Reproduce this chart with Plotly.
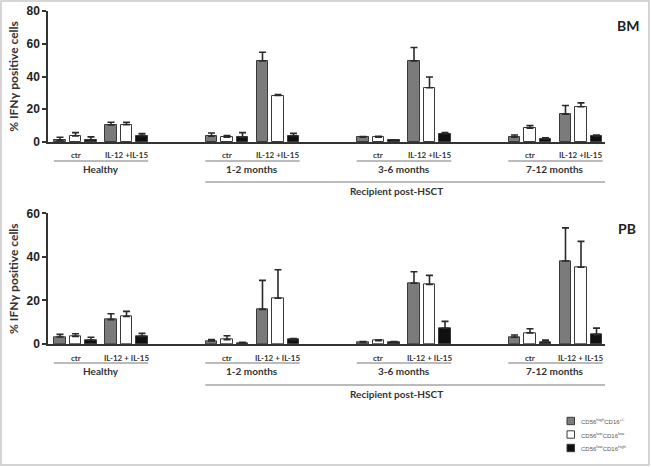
import plotly.graph_objects as go

# ---------------- data ----------------
groups = ["Healthy", "1-2 months", "3-6 months", "7-12 months"]
conditions_bm = ["ctr", "IL-12 +IL-15"]
conditions_pb = ["ctr", "IL-12 + IL-15"]
series_names = ["CD56<sup>high</sup>CD16<sup>+/-</sup>",
                "CD56<sup>low</sup>CD16<sup>low</sup>",
                "CD56<sup>low</sup>CD16<sup>high</sup>"]
recipient_label = "Recipient post-HSCT"
y_title = "% IFN\u03b3 positive cells"

# order: Healthy ctr, Healthy IL, 1-2 ctr, 1-2 IL, 3-6 ctr, 3-6 IL, 7-12 ctr, 7-12 IL
bm_bright = [1.0, 10.4, 3.5, 49.5, 2.9, 49.5, 2.9, 17.0]
bm_bright_err = [1.9, 1.7, 2.0, 5.3, 0.4, 8.2, 1.4, 5.3]
bm_lowlow = [3.7, 10.6, 2.9, 28.4, 2.9, 33.1, 8.4, 21.5]
bm_lowlow_err = [2.0, 1.5, 1.0, 0.6, 0.6, 6.6, 1.6, 2.4]
bm_lowhigh = [1.2, 3.9, 2.9, 3.9, 1.0, 5.1, 1.8, 3.7]
bm_lowhigh_err = [1.9, 1.2, 2.8, 1.4, 0.4, 0.6, 0.7, 0.6]

pb_bright = [3.2, 11.2, 1.4, 15.9, 0.8, 27.9, 3.1, 38.1]
pb_bright_err = [1.2, 2.7, 0.7, 13.3, 0.3, 5.3, 1.0, 15.2]
pb_lowlow = [3.5, 12.6, 2.0, 21.0, 1.5, 27.3, 5.1, 35.2]
pb_lowlow_err = [1.2, 2.4, 1.8, 13.1, 0.3, 4.2, 1.9, 11.9]
pb_lowhigh = [1.8, 3.5, 0.5, 2.0, 0.8, 7.2, 0.9, 4.3]
pb_lowhigh_err = [1.3, 1.4, 0.3, 0.5, 0.3, 3.2, 0.9, 3.0]

# ---------------- layout constants ----------------
G = 9.774   # group spacing (bar slots)
C = 3.29    # condition spacing
BW = 0.77   # bar width
fills = ["#7b7b7b", "#ffffff", "#101010"]
outline = "#3a3a3a"

W, H = 651, 467
ML, MR, MT, MB = 48, 46, 11, 123
PW = W - ML - MR
PH = H - MT - MB
top_dom = [(344 - 142) / PH, 1.0]
bot_dom = [0.0, (344 - 213.3) / PH]

fig = go.Figure()

def xpos(k, s):
    g, c = divmod(k, 2)
    return g * G + c * C + s

panels = [
    ("x", "y", [bm_bright, bm_lowlow, bm_lowhigh], [bm_bright_err, bm_lowlow_err, bm_lowhigh_err]),
    ("x2", "y2", [pb_bright, pb_lowlow, pb_lowhigh], [pb_bright_err, pb_lowlow_err, pb_lowhigh_err]),
]
for xa, ya, vals, errs in panels:
    for s in range(3):
        fig.add_trace(go.Bar(
            x=[xpos(k, s) for k in range(len(vals[s]))],
            y=vals[s],
            width=BW,
            name=series_names[s],
            showlegend=False,
            marker=dict(color=fills[s], line=dict(color=outline, width=1)),
            error_y=dict(type="data", array=errs[s], arrayminus=[0] * len(errs[s]),
                         symmetric=False, color="#2a2a2a", thickness=1.6, width=3.5),
            xaxis=xa, yaxis=ya,
        ))

x_range = [-12 / 15.5, -12 / 15.5 + PW / 15.5]
tickfont = dict(family="Liberation Sans, Arial", size=12, color="#222", weight="bold")
ax_common = dict(showline=True, linecolor="#333", linewidth=1.5, showgrid=False, zeroline=False,
                 automargin=False)
title_font = dict(family="Lato, Liberation Sans", size=12, color="#333", weight="bold")

fig.update_layout(
    width=W, height=H,
    margin=dict(l=ML, r=MR, t=MT, b=MB, autoexpand=False),
    plot_bgcolor="white", paper_bgcolor="white",
    bargap=0, showlegend=False,
    xaxis=dict(domain=[0, 1], range=x_range, anchor="y", showticklabels=False, ticks="", **ax_common),
    xaxis2=dict(domain=[0, 1], range=x_range, anchor="y2", showticklabels=False, ticks="", **ax_common),
    yaxis=dict(domain=top_dom, range=[0, 80], anchor="x", dtick=20, ticks="outside", ticklen=4,
               tickwidth=1.5, tickcolor="#333", tickfont=tickfont,
               title=dict(text=y_title, standoff=5, font=title_font),
               **ax_common),
    yaxis2=dict(domain=bot_dom, range=[0, 60], anchor="x2", dtick=20, ticks="outside", ticklen=4,
                tickwidth=1.5, tickcolor="#333", tickfont=tickfont,
                title=dict(text=y_title, standoff=5, font=title_font),
                **ax_common),
)

lab_font = dict(family="Lato, Liberation Sans", color="#333", weight="bold")
shapes = []
annotations = []

def add_labels(xa, yd, dom_px, conds, off):
    # off: pixel offsets below the axis for (cond text, group line, group text, recip line, recip text)
    t_ctr, l_grp, t_grp, l_rec, t_rec = off
    for g, gname in enumerate(groups):
        for c, cname in enumerate(conds):
            cx = g * G + c * C + 1
            annotations.append(dict(x=cx, y=0, xref=xa, yref=yd, text=cname, showarrow=False,
                                    yanchor="middle", yshift=-t_ctr,
                                    font=dict(size=8, **lab_font)))
        x0 = g * G - 0.4
        x1 = g * G + C + 2 + 0.4
        shapes.append(dict(type="line", xref=xa, yref=yd, x0=x0, x1=x1,
                           y0=-l_grp / dom_px, y1=-l_grp / dom_px,
                           line=dict(color="#777", width=1)))
        annotations.append(dict(x=(x0 + x1) / 2, y=0, xref=xa, yref=yd, text=gname, showarrow=False,
                                yanchor="middle", yshift=-t_grp, font=dict(size=10, **lab_font)))
    rx0 = G - 0.4
    rx1 = 3 * G + C + 2 + 0.6
    shapes.append(dict(type="line", xref=xa, yref=yd, x0=rx0, x1=rx1,
                       y0=-l_rec / dom_px, y1=-l_rec / dom_px,
                       line=dict(color="#777", width=1)))
    annotations.append(dict(x=(rx0 + rx1) / 2 - 0.6, y=0, xref=xa, yref=yd, text=recipient_label,
                            showarrow=False, yanchor="middle", yshift=-t_rec,
                            font=dict(size=10, **lab_font)))

add_labels("x", "y domain", 131, conditions_bm, (13, 19, 27, 40, 49))
add_labels("x2", "y2 domain", 130.7, conditions_pb, (14, 19, 27, 41, 50))

# panel tags
tag_font = dict(size=14, family="Lato, Liberation Sans", color="#222", weight="bold")
annotations.append(dict(x=1 + (628 - 605) / PW, y=1 + (11 - 25) / PH, xref="paper", yref="paper",
                        text="BM", showarrow=False, xanchor="center", yanchor="middle", font=tag_font))
annotations.append(dict(x=1 + (627 - 605) / PW, y=(344 - 228) / PH, xref="paper", yref="paper",
                        text="PB", showarrow=False, xanchor="center", yanchor="middle", font=tag_font))

# legend (manual, bottom right)
def px2paper(px, py):
    return (px - ML) / PW, (H - MB - py) / PH

leg_y = [421, 434.5, 448]
for s in range(3):
    x0, y0 = px2paper(567, leg_y[s] - 3.7)
    x1, y1 = px2paper(574.5, leg_y[s] + 3.7)
    shapes.append(dict(type="rect", xref="paper", yref="paper", x0=x0, x1=x1, y0=y0, y1=y1,
                       fillcolor=fills[s], line=dict(color=outline, width=1)))
    tx, ty = px2paper(579, leg_y[s])
    annotations.append(dict(x=tx, y=ty, xref="paper", yref="paper", text=series_names[s],
                            showarrow=False, xanchor="left", yanchor="middle",
                            font=dict(size=6, family="Liberation Sans, Arial", color="#555")))

# figure frame
fx0, fy0 = px2paper(1, 465)
fx1, fy1 = px2paper(649, 1)
shapes.append(dict(type="rect", xref="paper", yref="paper", x0=fx0, x1=fx1, y0=fy0, y1=fy1,
                   line=dict(color="#c8c8c8", width=1.5), fillcolor="rgba(0,0,0,0)"))

fig.update_layout(shapes=shapes, annotations=annotations)
fig.write_html("out.html", config={"displayModeBar": False},
               post_script="document.body.style.margin='0';document.body.style.overflow='hidden';")
